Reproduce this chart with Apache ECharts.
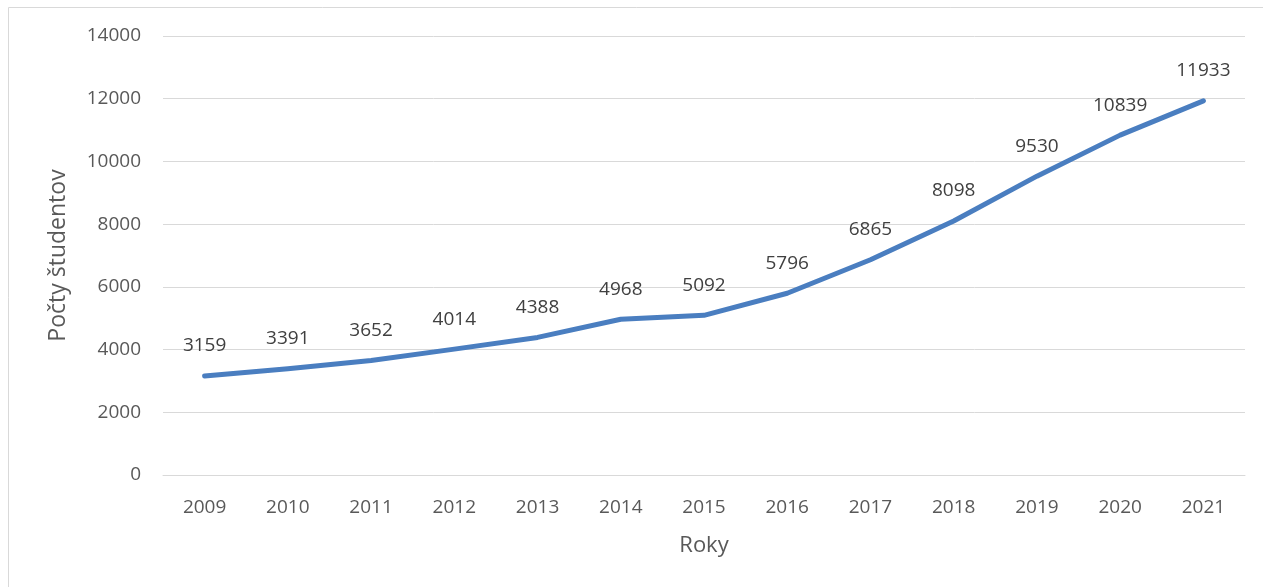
<!DOCTYPE html>
<html><head><meta charset="utf-8">
<script src="https://cdn.jsdelivr.net/npm/echarts@6/dist/echarts.min.js"></script>
<style>html,body{margin:0;padding:0;background:#fff}#c{width:1263px;height:587px}</style>
</head><body><div id="c"></div>
<script>
const years = ['2009','2010','2011','2012','2013','2014','2015','2016','2017','2018','2019','2020','2021'];
const students = [3159,3391,3652,4014,4388,4968,5092,5796,6865,8098,9530,10839,11933];
const yTicks = {min:0, max:14000, interval:2000};
const chart = echarts.init(document.getElementById('c'));
const font = '"Open Sans", "Liberation Sans", sans-serif';
chart.setOption({
  animation:false,
  graphic:[{type:'rect', shape:{x:8.5,y:7.5,width:1300,height:700}, style:{fill:null, stroke:'#d9d9d9', lineWidth:1}}],
  grid:{left:163, right:18, top:36, bottom:112},
  xAxis:{type:'category', data:years, boundaryGap:true,
    axisLine:{show:true, lineStyle:{color:'#d9d9d9', width:1}}, axisTick:{show:false},
    axisLabel:{color:'#595959', fontSize:19, fontFamily:font, margin:23},
    name:'Roky', nameLocation:'middle', nameGap:60, nameTextStyle:{color:'#595959', fontSize:22, fontFamily:font}},
  yAxis:{type:'value', min:yTicks.min, max:yTicks.max, interval:yTicks.interval,
    axisLine:{show:false}, axisTick:{show:false},
    splitLine:{lineStyle:{color:'#d9d9d9', width:1}},
    axisLabel:{color:'#595959', fontSize:19, fontFamily:font, margin:22, formatter:v=>String(v)},
    name:'Počty študentov', nameLocation:'middle', nameGap:93, nameRotate:90,
    nameTextStyle:{color:'#595959', fontSize:23, fontFamily:font}},
  series:[{type:'line', data:students, symbol:'circle', symbolSize:3, showSymbol:true,
    itemStyle:{color:'#4A7EC0', borderWidth:0},
    lineStyle:{color:'#4A7EC0', width:5, cap:'round', join:'round'},
    label:{show:true, position:'top', distance:19, color:'#404040', fontSize:19, fontFamily:font, formatter:p=>String(p.value)}}]
});
</script></body></html>
